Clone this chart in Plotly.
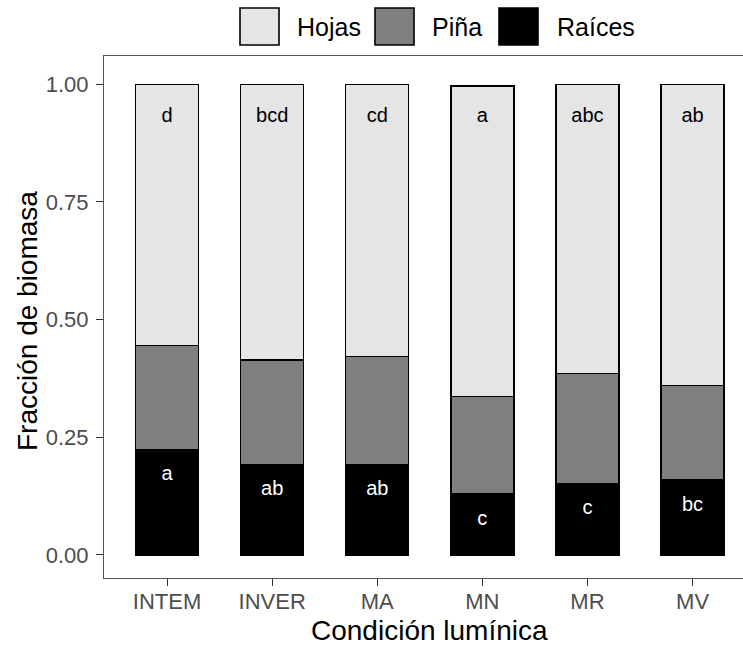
import plotly.graph_objects as go

# Biomass fraction per light condition (mean proportions)
condiciones = ["INTEM", "INVER", "MA", "MN", "MR", "MV"]
raices = [0.224, 0.192, 0.192, 0.130, 0.152, 0.159]
pina = [0.221, 0.222, 0.229, 0.206, 0.233, 0.201]
hojas = [0.555, 0.586, 0.579, 0.660, 0.615, 0.640]

# Significance letters
letras_hojas = ["d", "bcd", "cd", "a", "abc", "ab"]
letras_raices = ["a", "ab", "ab", "c", "c", "bc"]

componentes = ["Hojas", "Piña", "Raíces"]
colores = {"Hojas": "#E5E5E5", "Piña": "#7F7F7F", "Raíces": "#000000"}

W, H = 743, 646
ML, MR, MT, MB = 104, 0, 56, 68
PW, PH = W - ML - MR, H - MT - MB
FONT = "Liberation Sans, Arial, sans-serif"


def px_x(px):
    return (px - ML) / PW


def px_y(py):
    return (H - MB - py) / PH


fig = go.Figure()

for nombre, valores in [("Raíces", raices), ("Piña", pina), ("Hojas", hojas)]:
    fig.add_trace(go.Bar(
        x=condiciones, y=valores, name=nombre, width=0.6,
        marker=dict(color=colores[nombre], line=dict(color="#000000", width=1.4)),
        showlegend=False,
    ))

# Letters: leaves near the top of each bar, roots inside the root segment
fig.add_trace(go.Scatter(
    x=condiciones, y=[0.93] * len(condiciones), mode="text",
    text=letras_hojas, textfont=dict(family=FONT, size=20, color="#000000"),
    showlegend=False, hoverinfo="skip",
))
fig.add_trace(go.Scatter(
    x=condiciones, y=[r - 0.055 for r in raices], mode="text",
    text=letras_raices, textfont=dict(family=FONT, size=20, color="#FFFFFF"),
    showlegend=False, hoverinfo="skip",
))

# Legend drawn as boxes + labels across the top
legend_boxes = [(240, 279, 295), (375, 414, 430), (499, 538, 555)]
shapes = []
annotations = []
for nombre, (x0, x1, xt) in zip(componentes, legend_boxes):
    shapes.append(dict(
        type="rect", xref="paper", yref="paper",
        x0=px_x(x0), x1=px_x(x1), y0=px_y(45), y1=px_y(8),
        fillcolor=colores[nombre], line=dict(color="#000000", width=1.6),
    ))
    annotations.append(dict(
        xref="paper", yref="paper", x=px_x(xt), y=px_y(26.5),
        xanchor="left", yanchor="middle", text=nombre, showarrow=False,
        font=dict(family=FONT, size=25, color="#000000"),
    ))

# Axis titles
annotations.append(dict(
    xref="paper", yref="paper", x=px_x(429), y=px_y(630),
    xanchor="center", yanchor="middle", text="Condición lumínica",
    showarrow=False, font=dict(family=FONT, size=28, color="#000000"),
))
annotations.append(dict(
    xref="paper", yref="paper", x=px_x(27), y=px_y(321),
    xanchor="center", yanchor="middle", text="Fracción de biomasa",
    textangle=-90, showarrow=False,
    font=dict(family=FONT, size=28, color="#000000"),
))

fig.update_layout(
    width=W, height=H, barmode="stack",
    margin=dict(l=ML, r=MR, t=MT, b=MB, pad=0),
    paper_bgcolor="white", plot_bgcolor="white",
    shapes=shapes, annotations=annotations,
    font=dict(family=FONT),
    xaxis=dict(
        type="category", categoryorder="array", categoryarray=condiciones,
        range=[-0.6, 5.48], showgrid=False, zeroline=False,
        showline=True, linecolor="#555555", linewidth=1.2, mirror=True,
        ticks="outside", ticklen=7, tickwidth=1.2, tickcolor="#333333",
        tickfont=dict(family=FONT, size=22, color="#4D4D4D"),
        ticklabelstandoff=-4,
    ),
    yaxis=dict(
        range=[-0.049, 1.060], showgrid=False, zeroline=False,
        tickvals=[0, 0.25, 0.5, 0.75, 1.0],
        ticktext=["0.00", "0.25", "0.50", "0.75", "1.00"],
        showline=True, linecolor="#555555", linewidth=1.2,
        ticks="outside", ticklen=7, tickwidth=1.2, tickcolor="#333333",
        tickfont=dict(family=FONT, size=22, color="#4D4D4D"),
        ticklabelstandoff=3,
    ),
)

fig.write_html("out.html")
